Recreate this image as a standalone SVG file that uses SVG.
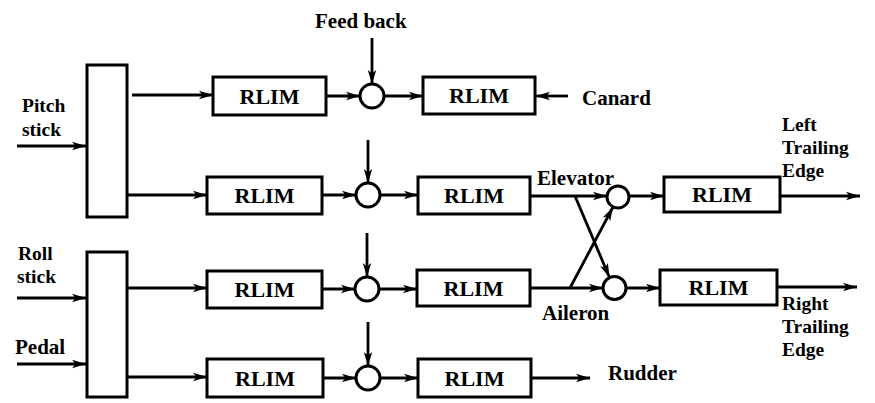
<svg xmlns="http://www.w3.org/2000/svg" width="875" height="403" viewBox="0 0 875 403">
<defs>
<marker id="ah" markerUnits="userSpaceOnUse" markerWidth="15" markerHeight="10" refX="14" refY="5" orient="auto">
<path d="M0,0.8 L14,5 L0,9.2 L3.5,5 z" fill="#000"/>
</marker>
<style>
.box{fill:#fff;stroke:#000;stroke-width:3}
.sum{fill:#fff;stroke:#000;stroke-width:3}
.ar{fill:none;stroke:#000;stroke-width:2.8;marker-end:url(#ah)}
text{font-family:"Liberation Serif","Times New Roman",serif;font-weight:bold;font-size:21px;fill:#000}
.c{text-anchor:middle;font-size:22px}
.s{font-size:19.5px}
</style>
</defs>
<rect width="875" height="403" fill="#fff"/>

<g id="connectors">
<line class="ar" x1="17" y1="146" x2="86" y2="146"/>
<line class="ar" x1="17" y1="298" x2="86" y2="298"/>
<line class="ar" x1="17" y1="364" x2="86" y2="364"/>
<line class="ar" x1="132" y1="95" x2="213" y2="95"/>
<line class="ar" x1="127" y1="195" x2="207" y2="195"/>
<line class="ar" x1="127" y1="288" x2="207" y2="288"/>
<line class="ar" x1="127" y1="377" x2="207" y2="377"/>
<line class="ar" x1="326" y1="96" x2="360" y2="96"/>
<line class="ar" x1="322" y1="195" x2="356" y2="195"/>
<line class="ar" x1="322" y1="289" x2="355" y2="289"/>
<line class="ar" x1="323" y1="378" x2="356" y2="378"/>
<line class="ar" x1="372" y1="38" x2="372" y2="84"/>
<line class="ar" x1="368" y1="140" x2="368" y2="183"/>
<line class="ar" x1="367" y1="233" x2="367" y2="277"/>
<line class="ar" x1="368" y1="322" x2="368" y2="366"/>
<line class="ar" x1="384" y1="96" x2="423" y2="96"/>
<line class="ar" x1="380" y1="195" x2="418" y2="195"/>
<line class="ar" x1="379" y1="289" x2="417" y2="289"/>
<line class="ar" x1="380" y1="378" x2="418" y2="378"/>
<line class="ar" x1="568" y1="96" x2="536" y2="96"/>
<line class="ar" x1="531" y1="378" x2="590" y2="378"/>
<line class="ar" x1="530" y1="196" x2="607" y2="196"/>
<line class="ar" x1="530" y1="288" x2="603" y2="288"/>
<line class="ar" x1="575" y1="196" x2="609.5" y2="277.5"/>
<line class="ar" x1="570" y1="288" x2="613" y2="207"/>
<line class="ar" x1="629" y1="196" x2="664" y2="196"/>
<line class="ar" x1="626" y1="288" x2="660" y2="288"/>
<line class="ar" x1="780" y1="196" x2="860" y2="196"/>
<line class="ar" x1="777" y1="287" x2="857" y2="287"/>
</g>

<g id="pitch-box"><rect class="box" x="87" y="65" width="40" height="152"/></g>
<g id="roll-pedal-box"><rect class="box" x="87" y="252" width="40" height="145"/></g>

<g id="rlim1"><rect class="box" x="213" y="77" width="113" height="38"/><text class="c" x="269.5" y="104">RLIM</text></g>
<g id="rlim2"><rect class="box" x="207" y="177" width="115" height="37"/><text class="c" x="264.5" y="203">RLIM</text></g>
<g id="rlim3"><rect class="box" x="207" y="271" width="115" height="37"/><text class="c" x="264.5" y="297">RLIM</text></g>
<g id="rlim4"><rect class="box" x="207" y="359" width="116" height="38"/><text class="c" x="265" y="386">RLIM</text></g>

<g id="sum1"><circle class="sum" cx="372" cy="96" r="12"/></g>
<g id="sum2"><circle class="sum" cx="368" cy="195" r="12"/></g>
<g id="sum3"><circle class="sum" cx="367" cy="289" r="12"/></g>
<g id="sum4"><circle class="sum" cx="368" cy="378" r="12"/></g>

<g id="rlim5"><rect class="box" x="423" y="77" width="112" height="37"/><text class="c" x="479" y="103">RLIM</text></g>
<g id="rlim6"><rect class="box" x="418" y="177" width="112" height="37"/><text class="c" x="474" y="203">RLIM</text></g>
<g id="rlim7"><rect class="box" x="417" y="270" width="113" height="36"/><text class="c" x="473.5" y="296">RLIM</text></g>
<g id="rlim8"><rect class="box" x="418" y="359" width="113" height="38"/><text class="c" x="474.5" y="386">RLIM</text></g>

<g id="sum-left"><circle class="sum" cx="618" cy="197" r="11"/></g>
<g id="sum-right"><circle class="sum" cx="614.5" cy="288" r="11.5"/></g>

<g id="rlim-left"><rect class="box" x="664" y="177" width="116" height="35"/><text class="c" x="722" y="202">RLIM</text></g>
<g id="rlim-right"><rect class="box" x="660" y="270" width="117" height="35"/><text class="c" x="718.5" y="295">RLIM</text></g>

<g id="labels">
<text x="315" y="28">Feed back</text>
<text class="s" x="22" y="112">Pitch</text>
<text class="s" x="22" y="136">stick</text>
<text class="s" x="18" y="260">Roll</text>
<text class="s" x="17" y="283">stick</text>
<text x="15" y="354">Pedal</text>
<text x="582" y="105">Canard</text>
<text x="537" y="185">Elevator</text>
<text x="542" y="320">Aileron</text>
<text x="608" y="380">Rudder</text>
<text class="s" x="782" y="131">Left</text>
<text class="s" x="782" y="154">Trailing</text>
<text class="s" x="782" y="177">Edge</text>
<text class="s" x="782" y="310">Right</text>
<text class="s" x="782" y="333">Trailing</text>
<text class="s" x="782" y="356">Edge</text>
</g>
</svg>
